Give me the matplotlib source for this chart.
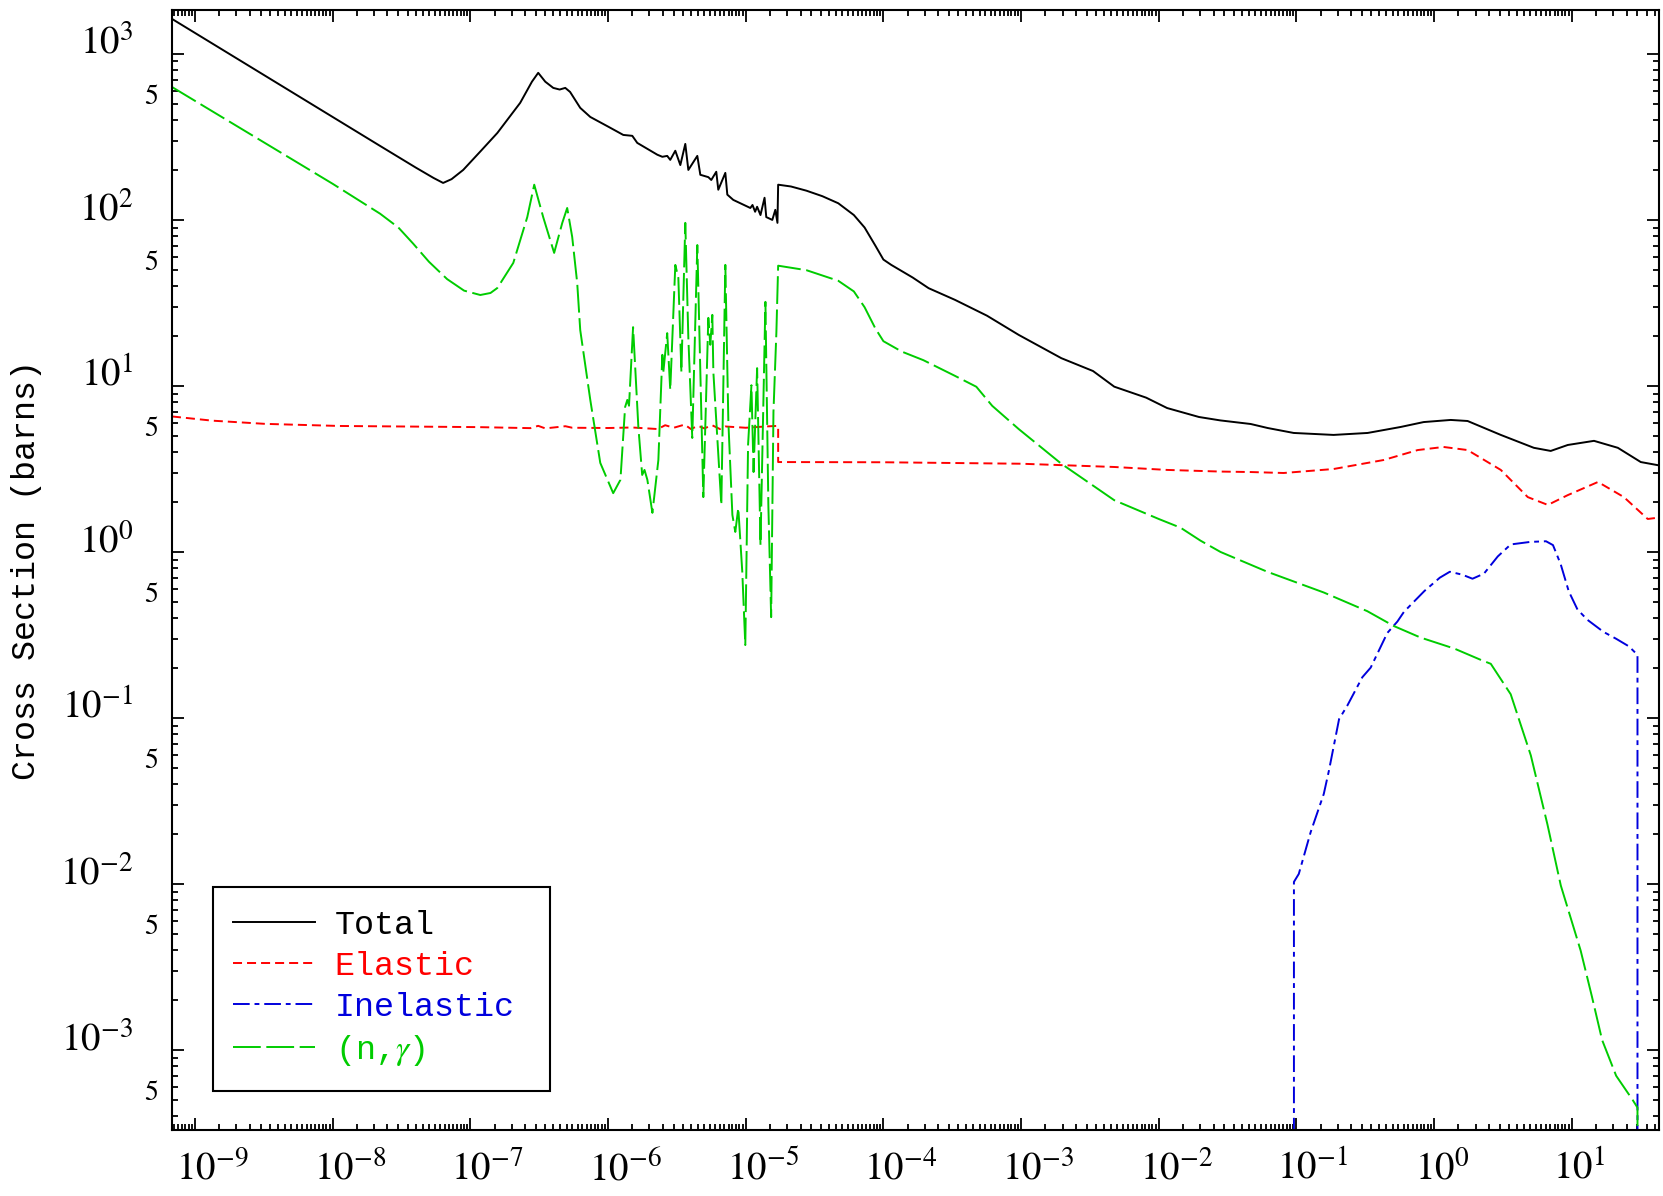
import numpy as np
import matplotlib
matplotlib.use('Agg')
import matplotlib.pyplot as plt
from matplotlib.ticker import FixedLocator, FuncFormatter
from matplotlib.patches import Rectangle
from matplotlib.transforms import ScaledTranslation

plt.rcParams['lines.scale_dashes'] = False
plt.rcParams['mathtext.fontset'] = 'stix'

# neutron energy (MeV) and cross sections (barns)
e_total = [6.8e-10, 2.21e-8, 4.0e-8, 5.4e-8, 6.34e-8, 7.3e-8, 8.87e-8, 1.2e-7, 1.57e-7,
           2.3e-7, 2.8e-7, 3.11e-7, 3.5e-7, 4.0e-7, 4.45e-7, 4.89e-7, 5.3e-7, 6.28e-7,
           7.43e-7, 1.0e-6, 1.29e-6, 1.5e-6, 1.63e-6, 2.28e-6, 2.48e-6, 2.69e-6, 2.83e-6,
           3.08e-6, 3.35e-6, 3.64e-6, 3.83e-6, 4.45e-6, 4.68e-6, 5.35e-6, 5.62e-6, 6.11e-6,
           6.32e-6, 7.11e-6, 7.35e-6, 8.12e-6, 1.08e-5, 1.12e-5, 1.17e-5, 1.21e-5, 1.28e-5,
           1.37e-5, 1.41e-5, 1.56e-5, 1.64e-5, 1.70e-5, 1.72e-5, 2.13e-5, 2.76e-5, 3.6e-5,
           4.7e-5, 6.1e-5, 7.3e-5, 8.74e-5, 1.0e-4, 1.14e-4, 1.63e-4, 2.13e-4, 3.31e-4,
           5.65e-4, 9.61e-4, 1.96e-3, 3.33e-3, 4.75e-3, 8.1e-3, 1.15e-2, 1.96e-2, 2.8e-2,
           4.65e-2, 6.18e-2, 9.55e-2, 0.186, 0.329, 0.571, 0.84, 1.32, 1.75, 3.05, 5.3,
           7.03, 9.35, 14.5, 21.6, 31.7, 45.0]
xs_total = [1625, 279, 207, 179, 167, 176, 200, 262, 334,
            507, 680, 769, 680, 624, 610, 624, 590, 473,
            417, 365, 325, 321, 291, 247, 240, 243, 230,
            261, 214, 287, 200, 243, 187, 181, 174, 195,
            152, 192, 142, 132, 118, 123, 112, 120, 107,
            136, 104, 100, 115, 96, 163, 159, 150, 139,
            126, 107, 90, 70, 57.7, 53.6, 45.0, 38.8, 33.0,
            26.5, 20.3, 14.7, 12.3, 9.9, 8.5, 7.36, 6.5, 6.2,
            5.9, 5.58, 5.21, 5.07, 5.21, 5.66, 6.06, 6.24, 6.15, 5.07, 4.24,
            4.06, 4.41, 4.67, 4.24, 3.48, 3.30]

e_elastic = [6.8e-10, 1.33e-9, 3.23e-9, 1.12e-8, 1.12e-7, 2.73e-7, 3.11e-7, 3.5e-7,
             4.9e-7, 5.5e-7, 1.0e-6, 1.5e-6, 2.3e-6, 2.6e-6, 3.0e-6, 3.6e-6, 4.0e-6,
             4.5e-6, 5.0e-6, 5.7e-6, 6.5e-6, 7.1e-6, 1.0e-5, 1.4e-5, 1.72e-5, 1.72e-5,
             1.0e-4, 1.0e-3, 4.75e-3, 1.15e-2, 2.8e-2, 4.65e-2, 8.07e-2, 0.186, 0.43,
             0.76, 1.17, 1.75, 3.05, 4.79, 6.7, 9.35, 15.5, 23.9, 35.6, 45.0]
xs_elastic = [6.55, 6.18, 5.91, 5.74, 5.65, 5.57, 5.75, 5.55,
              5.72, 5.6, 5.58, 5.62, 5.5, 5.8, 5.6, 5.85, 5.5,
              5.75, 5.55, 5.8, 5.5, 5.7, 5.6, 5.7, 5.75, 3.48,
              3.47, 3.40, 3.25, 3.12, 3.05, 3.03, 2.99, 3.16, 3.58,
              4.11, 4.29, 4.11, 3.12, 2.14, 1.92, 2.20, 2.64, 2.14, 1.58, 1.62]

e_inel = [0.0959, 0.0959, 0.104, 0.127, 0.158, 0.172, 0.204, 0.234, 0.301, 0.346,
          0.457, 0.541, 0.604, 0.85, 1.1, 1.3, 1.6, 1.9, 2.3, 2.9, 3.6,
          5.0, 6.5, 7.3, 8.3, 9.5, 11.0, 13.0, 17.0, 21.0, 26.0, 30.0, 30.0]
xs_inel = [1e-7, 0.0103, 0.0115, 0.0206, 0.0349, 0.048, 0.0984, 0.1186, 0.176, 0.201,
           0.325, 0.381, 0.436, 0.582, 0.70, 0.76, 0.73, 0.69, 0.74, 0.94, 1.11,
           1.15, 1.16, 1.10, 0.845, 0.58, 0.45, 0.39, 0.33, 0.30, 0.27, 0.24, 1e-7]

e_ng = [6.8e-10, 1.0e-8, 2.21e-8, 3.0e-8, 3.84e-8, 5.0e-8, 6.78e-8, 9.0e-8, 1.18e-7,
        1.4e-7, 1.57e-7, 2.05e-7, 2.59e-7, 2.91e-7,
        3.38e-7, 4.06e-7, 4.65e-7, 5.05e-7, 5.49e-7, 5.97e-7, 6.28e-7, 7.43e-7, 8.78e-7,
        1.09e-6, 1.23e-6, 1.33e-6, 1.38e-6, 1.42e-6, 1.52e-6, 1.66e-6, 1.77e-6, 1.84e-6,
        1.93e-6, 2.10e-6, 2.32e-6, 2.48e-6, 2.52e-6, 2.69e-6, 2.83e-6, 3.08e-6, 3.24e-6,
        3.41e-6, 3.64e-6, 3.83e-6, 4.09e-6, 4.45e-6, 4.92e-6, 5.35e-6, 5.53e-6, 5.72e-6,
        5.82e-6, 6.65e-6, 7.11e-6, 7.48e-6, 8.0e-6, 8.40e-6, 8.83e-6, 9.44e-6, 9.93e-6,
        1.04e-5, 1.10e-5, 1.14e-5, 1.21e-5, 1.28e-5, 1.39e-5, 1.46e-5, 1.53e-5, 1.59e-5,
        1.67e-5, 1.72e-5, 2.76e-5, 4.70e-5, 6.1e-5, 7.3e-5, 8.74e-5, 1.0e-4, 1.36e-4,
        1.95e-4, 3.31e-4, 4.73e-4, 6.17e-4, 9.61e-4, 1.96e-3, 4.75e-3, 1.0e-2, 1.44e-2,
        2.01e-2, 2.81e-2, 6.14e-2, 0.158, 0.327, 0.510, 0.798, 1.40, 2.18, 2.58, 3.60,
        5.04, 6.65, 8.32, 11.6, 14.0, 16.6, 21.0, 27.7, 30.0, 30.0]
xs_ng = [632, 165, 109, 90, 72, 56, 44, 37.5, 35.3,
         36.3, 38.9, 55.1, 104, 163,
         104, 63.3, 95.9, 118, 79, 41.7, 21.7, 8.24, 3.44,
         2.26, 2.72, 7.46, 8.24, 7.6, 22.6, 5.66, 2.91, 3.12,
         2.72, 1.72, 3.58, 15.4, 12.1, 20.8, 9.46, 53.6, 44.8,
         12.1, 96, 19.5, 4.86, 70.6, 2.14, 25.7, 17.7, 26.8,
         12.1, 1.92, 53.6, 6.07, 1.67, 1.32, 1.84, 0.759, 0.275,
         4.42, 10.1, 3.03, 12.8, 1.10, 32.1, 1.92, 0.405, 6.97,
         21.1, 53.0, 49.8, 43.0, 37.1, 29.8, 22.2, 18.6, 16.1,
         14.3, 11.5, 9.89, 7.59, 5.5, 3.4, 2.05, 1.58, 1.40,
         1.17, 1.0, 0.76, 0.57, 0.44, 0.358, 0.305, 0.262, 0.224, 0.212, 0.139,
         0.0595, 0.0229, 0.0098, 0.00397, 0.0021, 0.00115, 7.0e-4, 5.0e-4, 4.5e-4, 1e-7]

series_labels = ['Total', 'Elastic', 'Inelastic', '(n,$\\gamma$)']

fig = plt.figure(figsize=(16.63, 11.96), dpi=100)
ax = fig.add_axes([0.1034, 0.0552, 0.8942, 0.9365])

ax.plot(e_total, xs_total, color='black', lw=1.4, label=series_labels[0])
ax.plot(e_elastic, xs_elastic, color='#ff0000', lw=1.4, dashes=(6.5, 3.6), label=series_labels[1])
ax.plot(e_inel, xs_inel, color='#0000dd', lw=1.4, dashes=(12, 3.5, 3.5, 3.5), label=series_labels[2])
ax.plot(e_ng, xs_ng, color='#00cc00', lw=1.4, dashes=(20, 4), label=series_labels[3])

ax.set_xscale('log')
ax.set_yscale('log')
ax.set_xlim(6.8e-10, 43)
ax.set_ylim(3.3e-4, 1840)

# ticks
ax.xaxis.set_major_locator(FixedLocator([10.0 ** k for k in range(-9, 2)]))
ax.xaxis.set_minor_locator(FixedLocator([m * 10.0 ** k for k in range(-10, 2)
                                         for m in np.arange(1.5, 10, 0.5)]))
ax.yaxis.set_major_locator(FixedLocator([10.0 ** k for k in range(-3, 4)]))
ax.yaxis.set_minor_locator(FixedLocator([m * 10.0 ** k for k in range(-4, 4)
                                         for m in range(2, 10)]))

def pow_fmt(v, pos):
    return '$10^{%d}$' % round(np.log10(v))

def five_fmt(v, pos):
    m = v / 10.0 ** np.floor(np.log10(v) + 1e-9)
    return '5' if abs(m - 5) < 0.01 else ''

ax.xaxis.set_major_formatter(FuncFormatter(pow_fmt))
ax.xaxis.set_minor_formatter(FuncFormatter(lambda v, p: ''))
ax.yaxis.set_major_formatter(FuncFormatter(pow_fmt))
ax.yaxis.set_minor_formatter(FuncFormatter(five_fmt))

ax.tick_params(which='both', direction='in', top=True, right=True, width=1.3, colors='black')
ax.tick_params(which='major', length=8.6, labelsize=28)
ax.tick_params(which='minor', length=4.3, labelsize=20)
ax.tick_params(axis='x', which='major', pad=14)
ax.tick_params(axis='y', which='major', pad=28)
ax.tick_params(axis='y', which='minor', pad=10)

for lbl in ax.get_yticklabels():
    lbl.set_va('baseline')
for lbl in ax.yaxis.get_minorticklabels():
    lbl.set_va('baseline')
    lbl.set_family('STIXGeneral')
shift = ScaledTranslation(-0.19, 0, fig.dpi_scale_trans)
for lbl in ax.get_xticklabels():
    lbl.set_ha('left')
    lbl.set_transform(lbl.get_transform() + shift)

for sp in ax.spines.values():
    sp.set_linewidth(1.5)

ax.set_ylabel('Cross Section (barns)', family='Liberation Mono', fontsize=24)
ax.yaxis.set_label_coords(-0.0975, 0.5)
ax.yaxis.label.set_va('center')

# legend box
ax.add_patch(Rectangle((0.0276, 0.0348), 0.2266, 0.182, transform=ax.transAxes,
                       facecolor='white', edgecolor='black', lw=1.5, zorder=4))
leg = ax.legend(loc='center left', bbox_to_anchor=(0.041, 0.126), frameon=False,
                prop={'family': 'Liberation Mono', 'size': 24}, handlelength=2.45,
                handletextpad=0.6, labelspacing=0.3, borderpad=0, borderaxespad=0,
                labelcolor='linecolor')
leg.set_zorder(5)

fig.savefig('out.png', dpi=100, facecolor='white')
